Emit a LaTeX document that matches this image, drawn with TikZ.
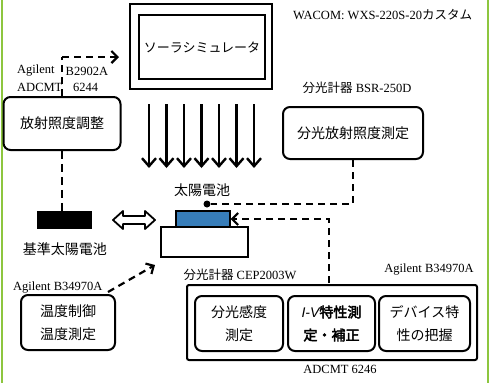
\documentclass[tikz,border=0pt]{standalone}
\usepackage{fontspec}
\setmainfont{Liberation Serif}
\newfontfamily\jp{Noto Sans CJK JP}
\newfontfamily\jpbold[FakeBold=3]{Noto Sans CJK JP}
\usetikzlibrary{arrows.meta,calc}
\definecolor{frameg}{RGB}{141,198,63}
\definecolor{cellblue}{RGB}{55,125,185}
\begin{document}
\begin{tikzpicture}[x=1pt,y=-1pt,
  box/.style={draw,line width=2pt,rounded corners=7pt,align=center,
    font=\jp\fontsize{14}{23}\selectfont,inner sep=0pt},
  lbl/.style={font=\fontsize{12.5}{14}\selectfont,inner sep=0pt},
  dline/.style={line width=2.2pt,dash pattern=on 7pt off 5pt},
  darrow/.style={dline,-{Straight Barb[length=6pt,width=12pt,line width=2.2pt]}},
  ray/.style={line width=2.2pt,-{Straight Barb[length=8pt,width=14pt,line width=2.4pt]}}]
\useasboundingbox (0,0) rectangle (490,383);
% green frame lines
\draw[frameg,line width=2pt] (1.5,0) -- (1.5,383);
\draw[frameg,line width=2pt] (487.5,0) -- (487.5,383);
% solar simulator
\node[draw,line width=2.2pt,minimum width=142pt,minimum height=85pt,inner sep=0pt] (simout) at (201,46.5) {};
\node[draw,line width=2.2pt,minimum width=126pt,minimum height=64pt,inner sep=0pt,
  font=\jp\fontsize{13}{15}\selectfont] (sim) at (202,47) {ソーラシミュレータ};
\node[lbl,anchor=west] (wacom) at (293,15) {WACOM: WXS-220S-20{\jp カスタム}};
% irradiance adjust
\node[box,minimum width=117pt,minimum height=53pt] (adj) at (62,123.5) {放射照度調整};
\node[lbl,anchor=west] (ag1) at (17,71) {Agilent};
\node[lbl,anchor=west] (ag2) at (65.5,71) {B2902A};
\node[lbl,anchor=west] (ad1) at (17,87) {ADCMT};
\node[lbl,anchor=west] (ad2) at (73,87) {6244};
\coordinate (simin) at (119,57);
\coordinate (adjtop) at (adj.north);
\coordinate (corner1) at (adjtop |- simin);
\draw[dline] (adjtop) -- (corner1);
\draw[darrow] (corner1) -- (simin);
% rays
\foreach \i in {0,...,6}{
  \coordinate (r\i a) at (149+\i*17.5,104);
  \coordinate (r\i b) at (149+\i*17.5,168);
  \draw[ray] (r\i a) -- (r\i b);
}
% spectral irradiance
\node[lbl,anchor=center] (bsr) at (357,88) {{\jp 分光計器} BSR-250D};
\node[box,minimum width=140pt,minimum height=52pt] (spec) at (353,133) {分光放射照度測定};
% solar cell
\node[font=\jp\fontsize{14}{16}\selectfont,inner sep=0pt] (celllbl) at (202,190) {太陽電池};
\node[fill,circle,inner sep=0pt,minimum size=7pt] (dot) at (207,204) {};
\node[draw,fill=cellblue,line width=1.2pt,minimum width=54pt,minimum height=16pt,inner sep=0pt] (cell) at (203,219) {};
\node[draw,line width=2pt,minimum width=87pt,minimum height=30pt,inner sep=0pt] (stage) at (204.5,242) {};
\draw[dline] (spec.south) |- (dot);
% reference cell
\node[fill,minimum width=55pt,minimum height=18pt,inner sep=0pt] (ref) at (64.5,220) {};
\node[font=\jp\fontsize{14}{16}\selectfont,inner sep=0pt] (reflbl) at (65,249) {基準太陽電池};
\coordinate (adjbot) at (adj.south);
\coordinate (refup) at (adjbot |- ref.north);
\foreach \k in {0,1,2,3,4}{
  \draw[line width=2.2pt] ($(adjbot)!{\k*0.2172}!(refup)$) -- ($(adjbot)!{\k*0.2172+0.1311}!(refup)$);
}
\coordinate (dbl1) at (113,220);
\coordinate (dbl2) at (155,220);
\draw[line width=1.8pt,line join=round] (dbl1) -- ++(10,-9) -- ++(0,5) -- ++(22,0) -- ++(0,-5)
  -- (dbl2) -- ++(-10,9) -- ++(0,-5) -- ++(-22,0) -- ++(0,5) -- cycle;
% temperature
\node[lbl,anchor=west] (agt) at (13,288) {Agilent B34970A};
\node[box,minimum width=94pt,minimum height=55pt] (temp) at (68,322.5) {温度制御\\温度測定};
\coordinate (tempfrom) at (108,292);
\coordinate (tempto) at (155,265);
\draw[darrow] (tempfrom) -- (tempto);
% measurement group
\node[lbl] (cep) at (240,275) {{\jp 分光計器} CEP2003W};
\node[lbl] (agr) at (429,270) {Agilent B34970A};
\node[draw,line width=2pt,rounded corners=2pt,minimum width=290pt,minimum height=75pt,inner sep=0pt] (grp) at (332,322.5) {};
\node[box,minimum width=88pt,minimum height=55pt] (b1) at (239,323.5) {分光感度\\測定};
\node[box,minimum width=87pt,minimum height=55pt,font=\jpbold\fontsize{14}{23}\selectfont] (b2) at (331.5,323.5) {{\fontspec{Liberation Sans}\itshape I-V}特性測\\定・補正};
\node[box,minimum width=91pt,minimum height=55pt] (b3) at (424.5,323.5) {デバイス特\\性の把握};
\node[lbl] (adc2) at (340,369) {ADCMT 6246};
\coordinate (grpup) at (329,283);
\draw[darrow] (grpup) |- (cell.east);
\end{tikzpicture}
\end{document}
